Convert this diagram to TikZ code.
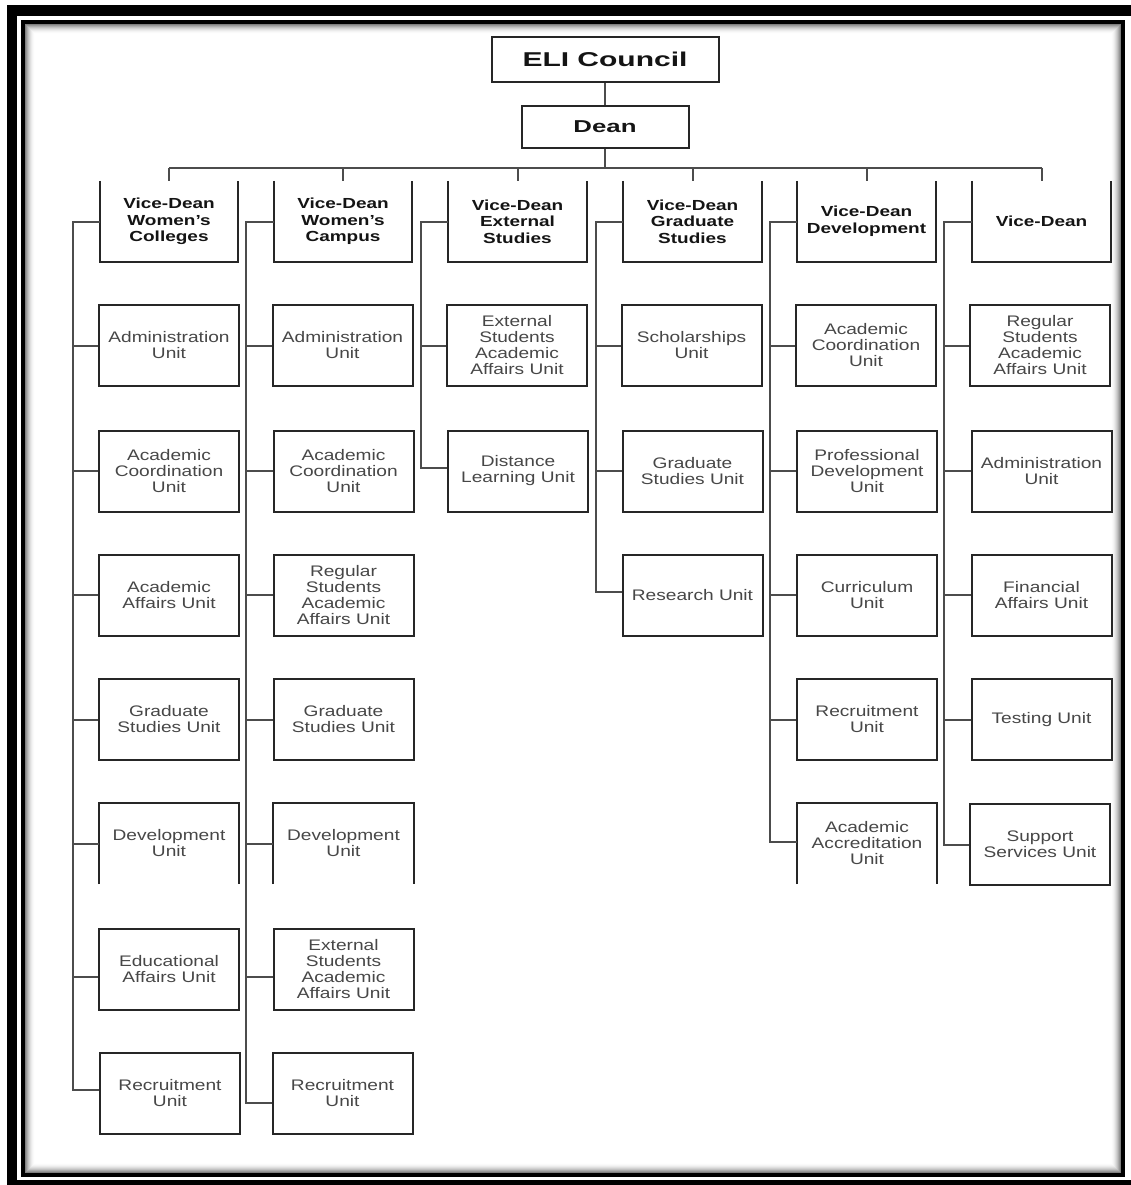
\documentclass[tikz,border=0pt]{standalone}
\usepackage{fontspec}
\usetikzlibrary{calc}
\newfontfamily\unitfont{Liberation Sans}[FakeStretch=1.25]
\newfontfamily\headfont{Liberation Sans}[FakeStretch=1.3]
\newfontfamily\topfont{Liberation Sans}[FakeStretch=1.5]

\begin{document}
\begin{tikzpicture}[x=1pt,y=-1pt,
  boxline/.style={draw=black!85, line width=2pt},
  wire/.style={draw=black!70, line width=2pt},
  unit/.style={minimum width=140pt, minimum height=81pt, inner sep=0pt,
    align=center, text=black!72,
    font={\unitfont\fontsize{15.3pt}{16pt}\selectfont}},
  unitbox/.style={unit, boxline},
  vdhead/.style={minimum width=138pt, minimum height=81pt, inner sep=0pt,
    align=center, text=black!92,
    font={\headfont\bfseries\fontsize{14.6pt}{16.7pt}\selectfont}},
  topbox/.style={boxline, inner sep=0pt, align=center, text=black!92},
]
\useasboundingbox (0,0) rectangle (1131,1185);
\clip (0,0) rectangle (1131,1185);
\fill[white] (0,0) rectangle (1131,1185);

% page frame: heavy outer rule, thin inner rule with a soft inner shadow
\draw[black, line width=10.5pt] (12,10.5) rectangle (1137,1185.5);
\draw[black, line width=4pt] (23,22) rectangle (1122.5,1174.5);
\foreach \i in {0,...,9} {
  \pgfmathsetmacro\op{0.5*(1-\i/10)^2}
  \draw[black, opacity=\op, line width=1pt]
    (25.5+\i,24.5+\i) rectangle (1120-\i,1172-\i);
}

% top of the hierarchy
\node[topbox, minimum width=227pt, minimum height=45pt,
  font={\topfont\bfseries\fontsize{20pt}{22pt}\selectfont}] (eli) at (605,59.5) {ELI Council};
\node[topbox, minimum width=167pt, minimum height=42pt,
  font={\topfont\bfseries\fontsize{17.2pt}{19pt}\selectfont}] (dean) at (605,127) {Dean};
\draw[wire] (eli) -- (dean);
\coordinate (bus) at (605,168);
\draw[wire] (dean.south) -- (bus);

% vice-dean headers (open at the top)
\node[vdhead] (vd1) at (169,221.5) {Vice-Dean\\Women’s\\Colleges};
\node[vdhead] (vd2) at (343,221.5) {Vice-Dean\\Women’s\\Campus};
\node[vdhead] (vd3) at (517.5,221.5) {Vice-Dean\\External\\Studies};
\node[vdhead] (vd4) at (692.5,221.5) {Vice-Dean\\Graduate\\Studies};
\node[vdhead] (vd5) at (866.5,221.5) {Vice-Dean\\Development};
\node[vdhead] (vd6) at (1041.5,221.5) {Vice-Dean};
\foreach \k in {1,...,6} {
  \draw[boxline] (vd\k.north west) -- (vd\k.south west) -- (vd\k.south east) -- (vd\k.north east);
  \draw[wire] (vd\k.north |- bus) -- (vd\k.north);
}
\draw[wire] (vd1.north |- bus) -- (vd6.north |- bus);

% column 1
\node[unitbox] (a1) at (169,345.5) {Administration\\Unit};
\node[unitbox] (a2) at (169,471) {Academic\\Coordination\\Unit};
\node[unitbox] (a3) at (169,595) {Academic\\Affairs Unit};
\node[unitbox] (a4) at (169,719.5) {Graduate\\Studies Unit};
\node[unit] (a5) at (169,843.5) {Development\\Unit};
\node[unitbox] (a6) at (169,969) {Educational\\Affairs Unit};
\node[unitbox] (a7) at (170,1093) {Recruitment\\Unit};

% column 2
\node[unitbox] (b1) at (342.5,345.5) {Administration\\Unit};
\node[unitbox] (b2) at (343.5,471) {Academic\\Coordination\\Unit};
\node[unitbox] (b3) at (343.5,595) {Regular\\Students\\Academic\\Affairs Unit};
\node[unitbox] (b4) at (343.5,719.5) {Graduate\\Studies Unit};
\node[unit] (b5) at (343.5,843.5) {Development\\Unit};
\node[unitbox] (b6) at (343.5,969) {External\\Students\\Academic\\Affairs Unit};
\node[unitbox] (b7) at (342.5,1093.5) {Recruitment\\Unit};

% column 3
\node[unitbox] (c1) at (517,345.5) {External\\Students\\Academic\\Affairs Unit};
\node[unitbox] (c2) at (518,471) {Distance\\Learning Unit};

% column 4
\node[unitbox] (d1) at (691.5,345.5) {Scholarships\\Unit};
\node[unitbox] (d2) at (692.5,471) {Graduate\\Studies Unit};
\node[unitbox] (d3) at (692.5,595) {Research Unit};

% column 5
\node[unitbox] (e1) at (866,345.5) {Academic\\Coordination\\Unit};
\node[unitbox] (e2) at (867,471) {Professional\\Development\\Unit};
\node[unitbox] (e3) at (867,595) {Curriculum\\Unit};
\node[unitbox] (e4) at (867,719.5) {Recruitment\\Unit};
\node[unit] (e5) at (867,843.5) {Academic\\Accreditation\\Unit};

% column 6
\node[unitbox] (f1) at (1040,345.5) {Regular\\Students\\Academic\\Affairs Unit};
\node[unitbox] (f2) at (1041.5,471) {Administration\\Unit};
\node[unitbox] (f3) at (1041.5,595) {Financial\\Affairs Unit};
\node[unitbox] (f4) at (1041.5,719.5) {Testing Unit};
\node[unitbox] (f5) at (1040,844.5) {Support\\Services Unit};

% units left open at the bottom
\foreach \n in {a5,b5,e5}
  \draw[boxline] (\n.south west) -- (\n.north west) -- (\n.north east) -- (\n.south east);

% attachment points that sit off the middle of their unit
\coordinate (a6p) at ([yshift=-8pt]a6.west);
\coordinate (a7p) at ([yshift=3pt]a7.west);
\coordinate (b6p) at ([yshift=-8pt]b6.west);
\coordinate (b7p) at ([yshift=-9.5pt]b7.west);
\coordinate (c2p) at ([yshift=3pt]c2.west);
\coordinate (d3p) at ([yshift=3pt]d3.west);
\coordinate (e5p) at ([yshift=1.5pt]e5.west);

% spines from each vice-dean down the left of its units
\draw[wire] (vd1.west) -- ++(-27,0) coordinate (s1) -- (s1 |- a7p) -- (a7p);
\draw[wire] (vd2.west) -- ++(-27.5,0) coordinate (s2) -- (s2 |- b7p) -- (b7p);
\draw[wire] (vd3.west) -- ++(-27,0) coordinate (s3) -- (s3 |- c2p) -- (c2p);
\draw[wire] (vd4.west) -- ++(-27.5,0) coordinate (s4) -- (s4 |- d3p) -- (d3p);
\draw[wire] (vd5.west) -- ++(-27.5,0) coordinate (s5) -- (s5 |- e5p) -- (e5p);
\draw[wire] (vd6.west) -- ++(-28.5,0) coordinate (s6) -- (s6 |- f5.west) -- (f5.west);

\foreach \n in {a1,a2,a3,a4,a5} \draw[wire] (s1 |- \n.west) -- (\n.west);
\draw[wire] (s1 |- a6p) -- (a6p);
\foreach \n in {b1,b2,b3,b4,b5} \draw[wire] (s2 |- \n.west) -- (\n.west);
\draw[wire] (s2 |- b6p) -- (b6p);
\draw[wire] (s3 |- c1.west) -- (c1.west);
\foreach \n in {d1,d2} \draw[wire] (s4 |- \n.west) -- (\n.west);
\foreach \n in {e1,e2,e3,e4} \draw[wire] (s5 |- \n.west) -- (\n.west);
\foreach \n in {f1,f2,f3,f4} \draw[wire] (s6 |- \n.west) -- (\n.west);
\end{tikzpicture}
\end{document}
